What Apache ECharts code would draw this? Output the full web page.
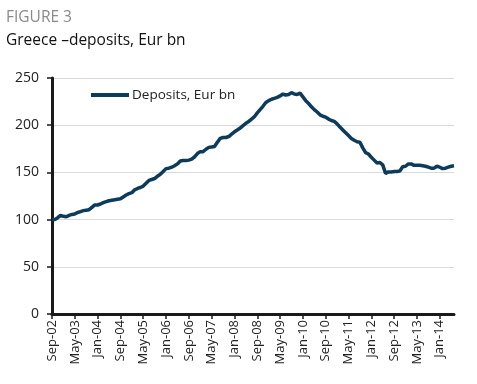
<!DOCTYPE html>
<html>
<head>
<meta charset="utf-8">
<script src="https://cdn.jsdelivr.net/npm/echarts@6/dist/echarts.min.js"></script>
<style>
html,body{margin:0;padding:0;background:#fff;}
#c{width:477px;height:384px;}
</style>
</head>
<body>
<div id="c"></div>
<script>
const figureLabel = "FIGURE 3";
const titleText = "Greece \u2013deposits, Eur bn";
const seriesName = "Deposits, Eur bn";
const monthNames = ["Jan","Feb","Mar","Apr","May","Jun","Jul","Aug","Sep","Oct","Nov","Dec"];
const startYear = 2002, startMonth = 8; // Sep-02
const deposits = [
100,100,102,104.5,103.5,103,104.5,105.5,106,107.5,
108.5,109.5,110,110.5,113,115.5,115.5,116.5,118,119,
120,120.5,121,121.5,122,124,126,127.5,128.5,131.5,
133,134,135.5,138.5,141.5,142.5,143.5,146,148,151,
154,154.5,155.5,157,159,162,162.5,162.5,163,164,
166.5,170,172,172,174.5,176.5,177,177.5,182,186,
187,187,188,190.5,193,195,197,199.5,202,204,
206.5,209,213,216.5,220,224,226,227.5,228.5,229.5,
231,233,232,232.5,234.5,233,232.5,234,230,226,
223,219.5,216.5,214,211,209.5,208.5,206.5,205,204,
201.5,198,195,192,189,186,184,182.5,182,176,
171,169.5,166,163,160,160.5,158,149,150.5,150.5,
151,151,151.5,156,156.5,159,159,157.5,157.5,157.5,
157,156.5,155.5,154.5,154.5,156.5,155.5,154,154.5,155.5,
156.5,157
];
const categories = deposits.map((_, i) => {
  const t = startMonth + i;
  const y = startYear + Math.floor(t / 12);
  return monthNames[t % 12] + "-" + String(y % 100).padStart(2, "0");
});
const yMin = 0, yMax = 250, yStep = 50;

const chart = echarts.init(document.getElementById('c'), null, {renderer: 'canvas'});
chart.setOption({
  animation: false,
  backgroundColor: '#ffffff',
  textStyle: {fontFamily: 'Open Sans'},
  title: [
    {text: figureLabel, left: 1, top: 5,
     textStyle: {fontFamily: 'Open Sans', fontSize: 15.5, fontWeight: 'normal', color: '#8a8a8a'}},
    {text: titleText, left: 1, top: 28,
     textStyle: {fontFamily: 'Open Sans', fontSize: 15.5, fontWeight: 'normal', color: '#111'}}
  ],
  legend: {
    left: 86, top: 83,
    itemWidth: 38, itemHeight: 4,
    icon: 'rect',
    itemGap: 4,
    textStyle: {fontFamily: 'Open Sans', fontSize: 13.5, color: '#222', padding: [0,0,0,-2]},
    data: [{name: seriesName, icon: 'rect'}]
  },
  grid: {left: 52, right: 23, top: 78, bottom: 70, containLabel: false},
  xAxis: {
    type: 'category',
    data: categories,
    boundaryGap: false,
    axisLine: {show: true, lineStyle: {color: '#1a1a1a', width: 3}},
    axisTick: {show: true, interval: 7, length: 5, lineStyle: {color: '#1a1a1a', width: 1.5}},
    axisLabel: {interval: 7, rotate: 90, fontSize: 13, color: '#222', margin: 6, fontFamily: 'Open Sans'},
    splitLine: {show: false}
  },
  yAxis: {
    type: 'value',
    min: yMin, max: yMax, interval: yStep,
    axisLine: {show: true, lineStyle: {color: '#1a1a1a', width: 3}},
    axisTick: {show: true, length: 5, lineStyle: {color: '#1a1a1a', width: 1.5}},
    axisLabel: {fontSize: 14, color: '#222', margin: 13, fontFamily: 'Open Sans'},
    splitLine: {show: true, lineStyle: {color: '#d9d9d9', width: 1}}
  },
  series: [{
    name: seriesName,
    type: 'line',
    data: deposits,
    showSymbol: false,
    symbol: 'none',
    lineStyle: {color: '#0d3b5c', width: 3.5},
    itemStyle: {color: '#0d3b5c'}
  }]
});
</script>
</body>
</html>
